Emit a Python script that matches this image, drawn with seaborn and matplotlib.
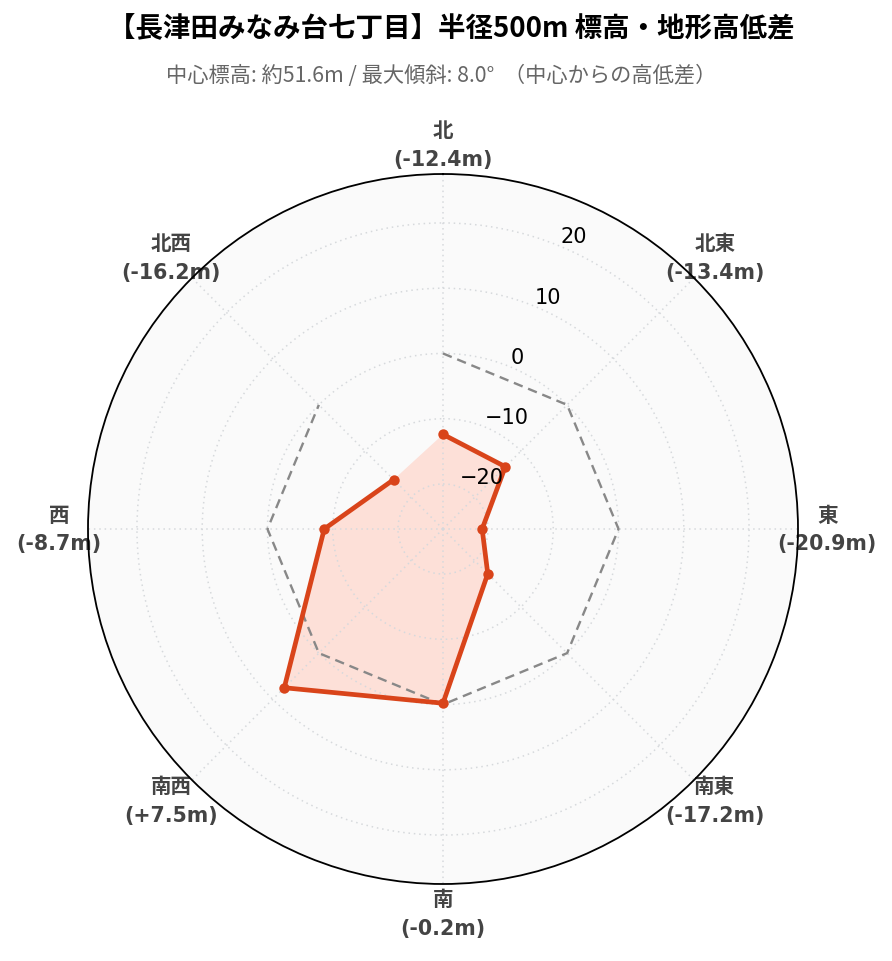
import numpy as np
import pandas as pd
import matplotlib
matplotlib.use("Agg")
import matplotlib.pyplot as plt
import seaborn as sns

# ---- data ----
title = "【長津田みなみ台七丁目】半径500m 標高・地形高低差"
subtitle = "中心標高: 約51.6m / 最大傾斜: 8.0°  （中心からの高低差）"
directions = ["北", "北東", "東", "南東", "南", "南西", "西", "北西"]
diffs = [-12.4, -13.4, -20.9, -17.2, -0.2, 7.5, -8.7, -16.2]
reference = [0, 0, 0, 0, 0, 0, 0, 0]
rticks = [-20, -10, 0, 10, 20]
rrange = (-26.9, 27.5)

sns.set_theme(style="white")
plt.rcParams["font.family"] = ["DejaVu Sans", "Noto Sans CJK JP"]
plt.rcParams["axes.unicode_minus"] = True

theta = np.deg2rad(np.arange(len(directions)) * 360.0 / len(directions))
df = pd.DataFrame({
    "theta": np.append(theta, theta[0]),
    "diff": diffs + diffs[:1],
    "ref": reference + reference[:1],
})

fig = plt.figure(figsize=(8.92, 9.62), dpi=100)
ax = fig.add_axes([88 / 892, 77 / 962, 710 / 892, 710 / 962], projection="polar")
ax.set_theta_zero_location("N")
ax.set_theta_direction(-1)
ax.set_facecolor("#fafafa")
ax.set_axisbelow("line")

red = "#D9441A"
ax.fill(df["theta"], df["diff"], color="#FDE0D8", linewidth=0, zorder=1)
sns.lineplot(data=df, x="theta", y="ref", sort=False, ax=ax, color="#888888",
             linewidth=1.7, linestyle=(0, (4, 2.5)), zorder=3)
sns.lineplot(data=df, x="theta", y="diff", sort=False, ax=ax, color=red,
             linewidth=3.4, marker="o", markersize=7.5, markeredgewidth=0, zorder=4)

ax.set_ylim(*rrange)
ax.set_yticks(rticks)
ax.set_yticklabels([])
ax.set_xticks(theta)
ax.set_xticklabels([f"{d}\n({v:+.1f}m)" for d, v in zip(directions, diffs)],
                   fontsize=14.8, fontweight="bold", color="#444444", linespacing=1.55)
ax.tick_params(axis="x", pad=8)
ax.set_xlabel("")
ax.set_ylabel("")
ax.grid(True, color="#d6d9dc", linestyle=(0, (1, 2.5)), linewidth=1.1)
ax.spines["polar"].set_color("black")
ax.spines["polar"].set_linewidth(1.3)

for v in rticks:
    ax.text(np.deg2rad(22.5), v, f"{v}".replace("-", "\u2212"), ha="left", va="bottom",
            fontsize=15, color="black", zorder=5)

fig.text(0.506, 1 - 29 / 962, title, ha="center", va="center", fontsize=19.8,
         fontweight="bold", color="#000000", family=["Noto Sans CJK JP", "DejaVu Sans"])
fig.text(0.495, 1 - 76 / 962, subtitle, ha="center", va="center", fontsize=15.3,
         color="#666666", family=["Noto Sans CJK JP", "DejaVu Sans"])

fig.savefig("out.png", dpi=100)
